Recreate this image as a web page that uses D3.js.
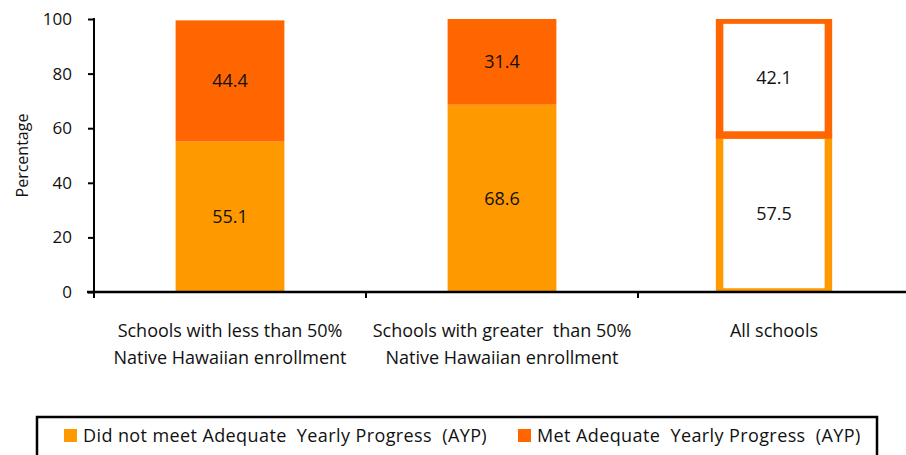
<!DOCTYPE html>
<html>
<head>
<meta charset="utf-8">
<script src="https://cdn.jsdelivr.net/npm/d3@7"></script>
<style>
  body { margin: 0; background: #fff; }
  text { font-family: "Open Sans", Lato, sans-serif; fill: #111; }
</style>
</head>
<body>
<div id="chart"></div>
<script>
var categories = [
  ["Schools with less than 50%", "Native Hawaiian enrollment"],
  ["Schools with greater  than 50%", "Native Hawaiian enrollment"],
  ["All schools"]
];
var notMet = [55.1, 68.6, 57.5];
var met = [44.4, 31.4, 42.1];
var seriesNames = ["Did not meet Adequate  Yearly Progress  (AYP)", "Met Adequate  Yearly Progress  (AYP)"];
var yTicks = [0, 20, 40, 60, 80, 100];

var outerWidth = 906, outerHeight = 455;
var margin = { top: 19, left: 94 },
    width = 816,
    height = 273;

var colorLight = "#ff9900",
    colorDark = "#ff6600";

var svg = d3.select("#chart").append("svg")
    .attr("width", outerWidth)
    .attr("height", outerHeight);

svg.append("defs").append("clipPath")
    .attr("id", "plotclip")
  .append("rect")
    .attr("x", 0).attr("y", 0)
    .attr("width", width).attr("height", height);

var g = svg.append("g")
    .attr("transform", "translate(" + margin.left + "," + margin.top + ")");

var x = d3.scaleBand()
    .domain(d3.range(categories.length))
    .range([0, width])
    .paddingInner(0.6)
    .paddingOuter(0.3);

var xGroups = d3.scaleBand()
    .domain(d3.range(categories.length))
    .range([0, width]);

var y = d3.scaleLinear()
    .domain([0, 100])
    .range([height, 0]);

var stacked = categories.map(function(c, i) {
  return [
    { i: i, y0: 0, y1: notMet[i], v: notMet[i], s: 0 },
    { i: i, y0: notMet[i], y1: notMet[i] + met[i], v: met[i], s: 1 }
  ];
});
var segs = [].concat.apply([], stacked);

// bars (last category drawn as outlined boxes, clipped to plot area)
g.append("g")
    .attr("clip-path", "url(#plotclip)")
  .selectAll(".seg")
  .data(segs.slice().sort(function(a, b) { return a.s - b.s; }))
  .enter().append("rect")
    .attr("class", "seg")
    .attr("x", function(d) { return x(d.i); })
    .attr("width", x.bandwidth())
    .attr("y", function(d) { return y(d.y1); })
    .attr("height", function(d) { return y(d.y0) - y(d.y1); })
    .style("fill", function(d) {
      if (d.i == 2) return "#fff";
      return d.s == 0 ? colorLight : colorDark;
    })
    .style("stroke", function(d) {
      if (d.i != 2) return "none";
      return d.s == 0 ? colorLight : colorDark;
    })
    .style("stroke-width", 7.5);

g.selectAll(".val")
  .data(segs)
  .enter().append("text")
    .attr("class", "val")
    .attr("x", function(d) { return x(d.i) + x.bandwidth() / 2; })
    .attr("y", function(d) { return (y(d.y0) + y(d.y1)) / 2; })
    .attr("dy", ".35em")
    .style("text-anchor", "middle")
    .style("font-size", "18px")
    .text(function(d) { return d.v.toFixed(1); });

// y axis
var yAxis = d3.axisLeft(y)
    .tickValues(yTicks)
    .tickSize(6)
    .tickPadding(16);

var yg = g.append("g").call(yAxis);
yg.select(".domain").remove();
yg.selectAll("line").style("stroke", "#000").style("stroke-width", 2);
yg.selectAll("text").style("font-size", "17px").style("font-family", "'Open Sans', sans-serif").style("fill", "#111");
yg.append("line")
    .attr("x1", 0).attr("x2", 0)
    .attr("y1", -1).attr("y2", height + 6)
    .style("stroke", "#000").style("stroke-width", 2);

// x axis
var xg = g.append("g")
    .attr("transform", "translate(0," + height + ")");
xg.append("line")
    .attr("x1", -7).attr("x2", width)
    .attr("y1", 0).attr("y2", 0)
    .style("stroke", "#000").style("stroke-width", 2.5);
xg.selectAll(".xtick")
  .data(d3.range(1, categories.length))
  .enter().append("line")
    .attr("x1", function(d) { return xGroups(d); })
    .attr("x2", function(d) { return xGroups(d); })
    .attr("y1", 0).attr("y2", 6)
    .style("stroke", "#000").style("stroke-width", 2);

var catLabels = xg.selectAll(".cat")
  .data(categories)
  .enter().append("text")
    .attr("class", "cat")
    .attr("x", function(d, i) { return xGroups(i) + xGroups.bandwidth() / 2; })
    .attr("y", 45)
    .style("text-anchor", "middle")
    .style("font-size", "18px")
    .style("white-space", "pre");
catLabels.selectAll("tspan")
  .data(function(d) { return d; })
  .enter().append("tspan")
    .attr("x", function() { return d3.select(this.parentNode).attr("x"); })
    .attr("dy", function(d, i) { return i == 0 ? 0 : 27; })
    .text(function(d) { return d; });

svg.append("text")
    .attr("transform", "translate(28," + (margin.top + height / 2) + ") rotate(-90)")
    .style("text-anchor", "middle")
    .style("font-size", "16px")
    .text("Percentage");

// legend
var legend = svg.append("g").attr("transform", "translate(37,417)");
legend.append("rect")
    .attr("width", 840)
    .attr("height", 44)
    .style("fill", "#fff")
    .style("stroke", "#000")
    .style("stroke-width", 2.5);

var legendX = [27, 481];
var items = legend.selectAll(".legend")
  .data(seriesNames)
  .enter().append("g")
    .attr("class", "legend")
    .attr("transform", function(d, i) { return "translate(" + legendX[i] + ",0)"; });
items.append("rect")
    .attr("y", 12)
    .attr("width", 13)
    .attr("height", 13)
    .style("fill", function(d, i) { return i == 0 ? colorLight : colorDark; });
items.append("text")
    .attr("x", 19)
    .attr("y", 19)
    .attr("dy", ".35em")
    .style("font-size", "18px")
    .style("letter-spacing", "0.4px")
    .style("white-space", "pre")
    .text(function(d) { return d; });
</script>
</body>
</html>
